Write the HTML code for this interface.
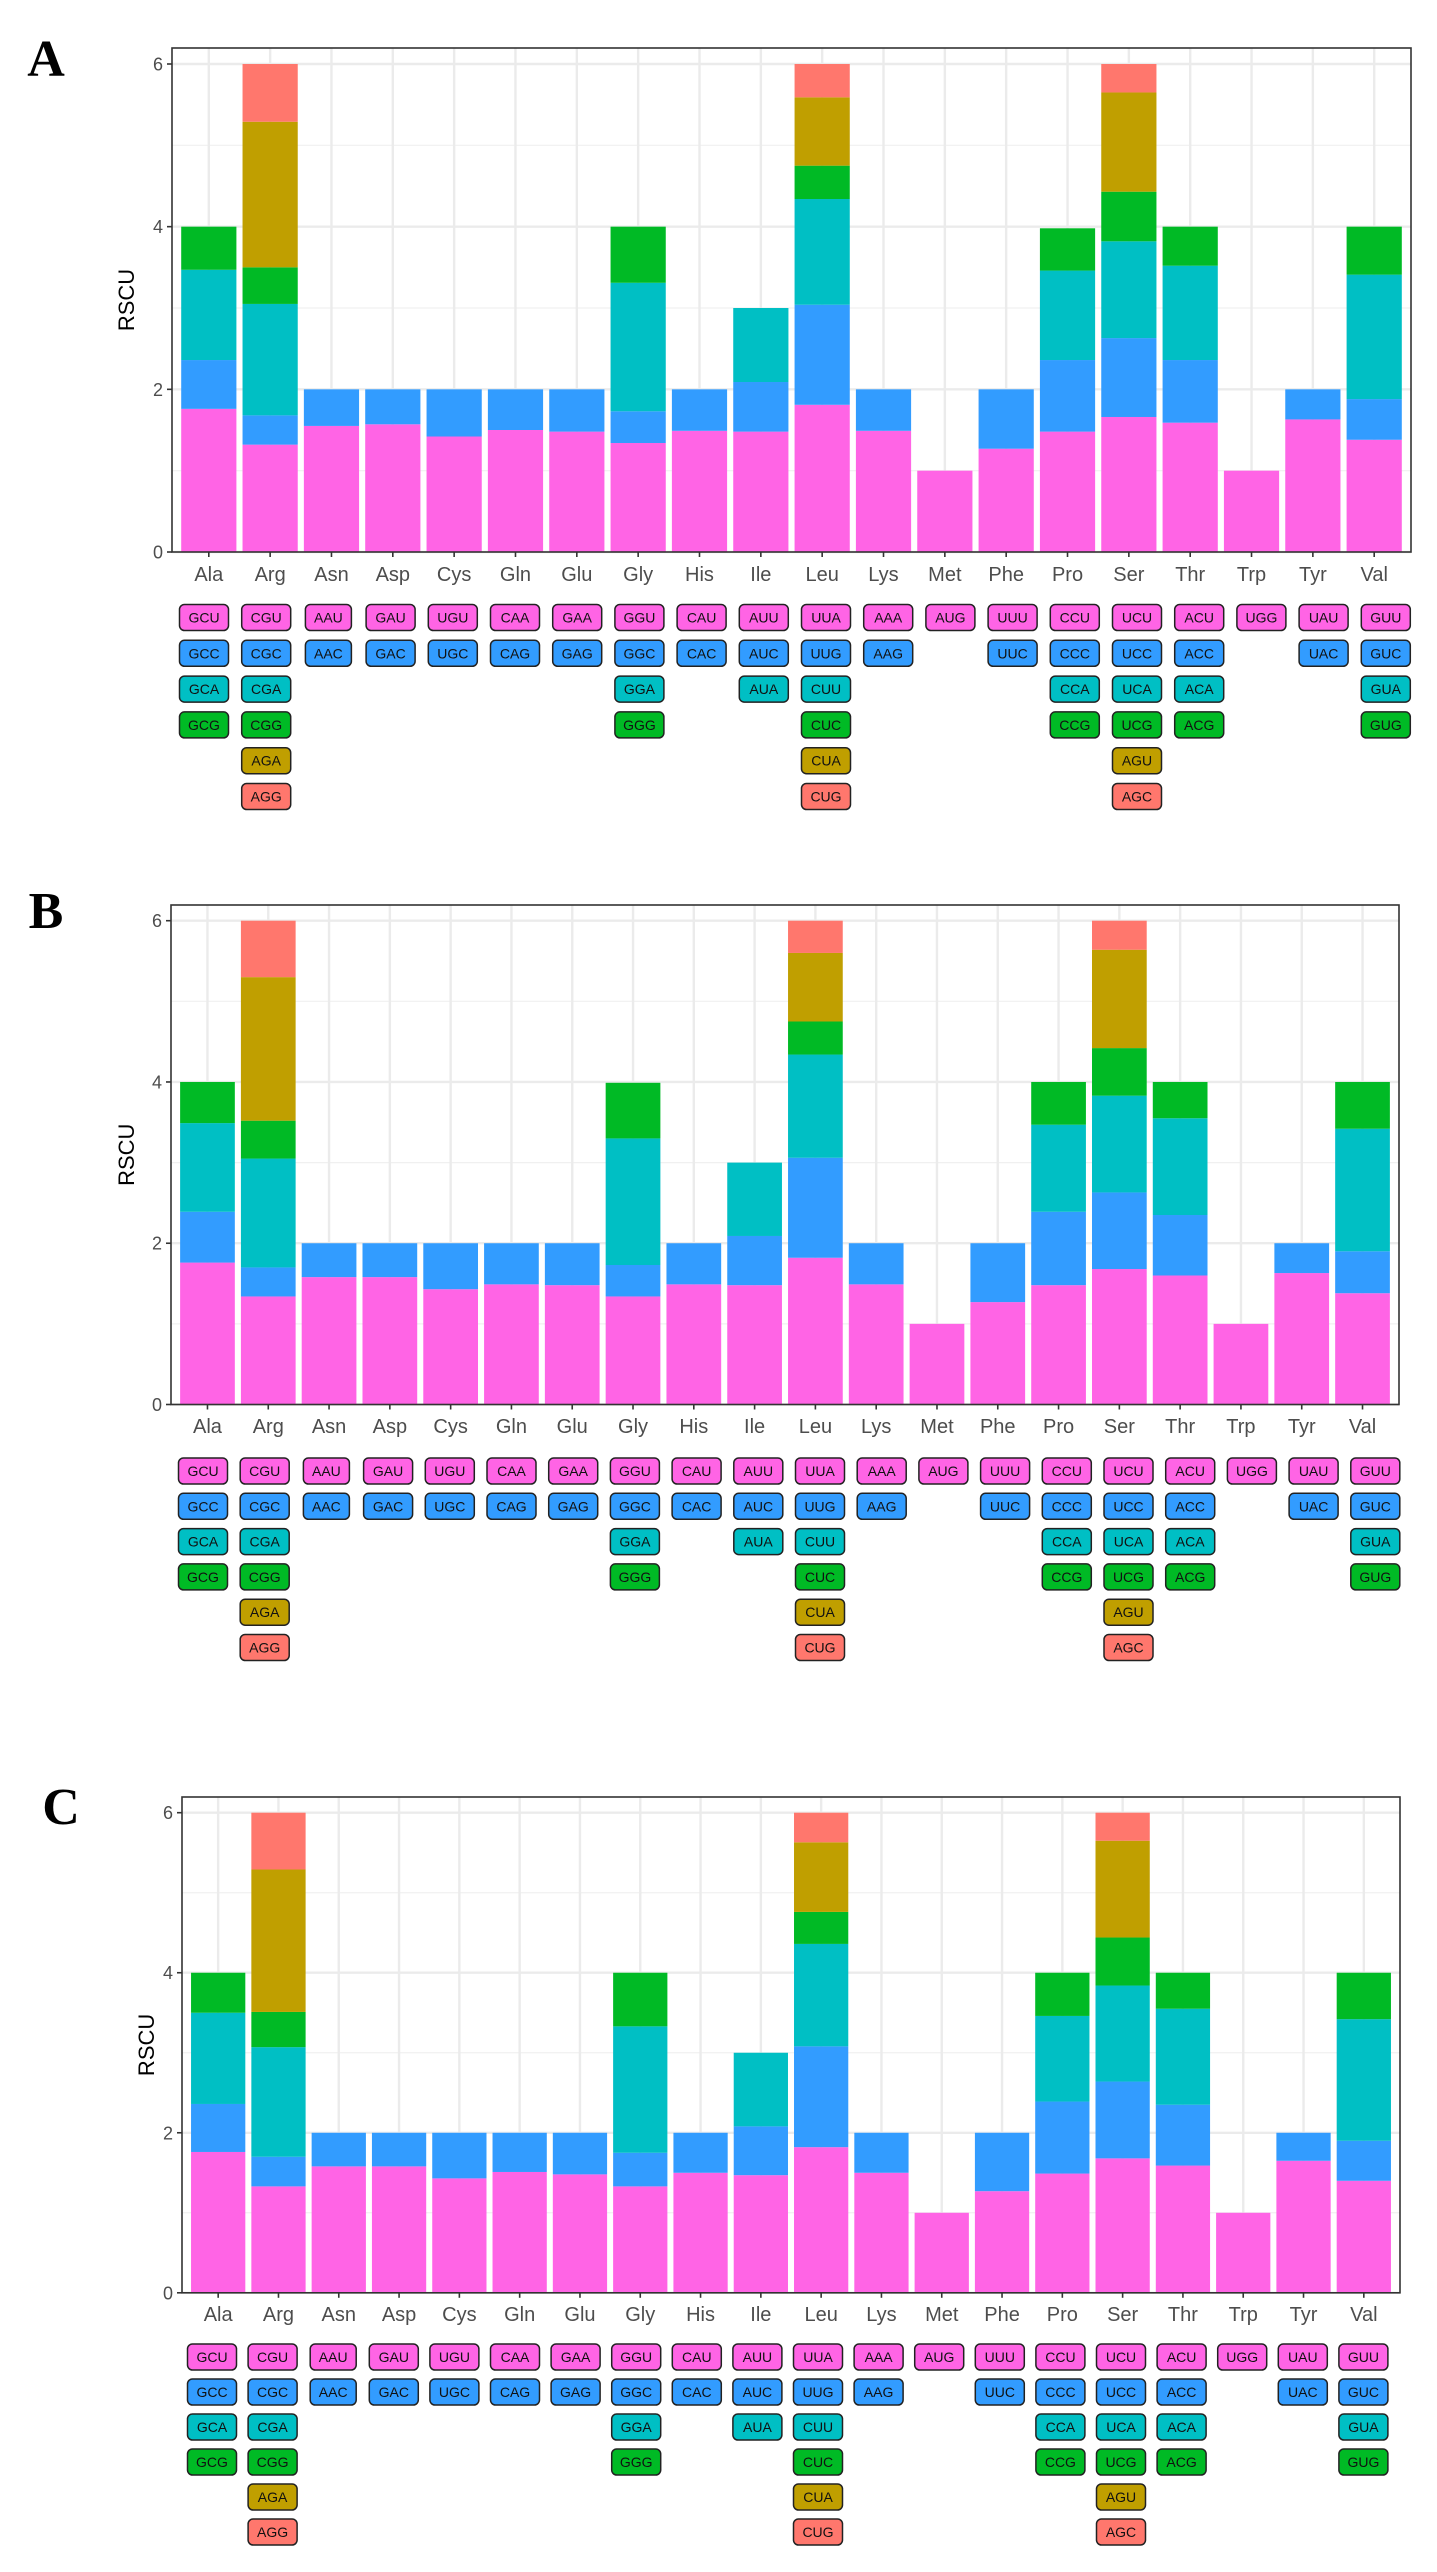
<!DOCTYPE html>
<html><head><meta charset="utf-8">
<style>
html,body{margin:0;padding:0;background:#fff;}
svg{display:block;}
</style></head>
<body>
<svg id="fig" width="1437" height="2572" viewBox="0 0 1437 2572" xmlns="http://www.w3.org/2000/svg"></svg>
<script>
// ---- data ----
const aminoAcids = ["Ala","Arg","Asn","Asp","Cys","Gln","Glu","Gly","His","Ile","Leu","Lys","Met","Phe","Pro","Ser","Thr","Trp","Tyr","Val"];
const codons = [
 ["GCU","GCC","GCA","GCG"],
 ["CGU","CGC","CGA","CGG","AGA","AGG"],
 ["AAU","AAC"],["GAU","GAC"],["UGU","UGC"],["CAA","CAG"],["GAA","GAG"],
 ["GGU","GGC","GGA","GGG"],["CAU","CAC"],["AUU","AUC","AUA"],
 ["UUA","UUG","CUU","CUC","CUA","CUG"],["AAA","AAG"],["AUG"],["UUU","UUC"],
 ["CCU","CCC","CCA","CCG"],["UCU","UCC","UCA","UCG","AGU","AGC"],
 ["ACU","ACC","ACA","ACG"],["UGG"],["UAU","UAC"],["GUU","GUC","GUA","GUG"]
];
// cumulative stack tops (RSCU) per amino acid, bottom to top
const stackA = [
 [1.76,2.36,3.47,4],[1.32,1.68,3.05,3.50,5.29,6],[1.55,2],[1.57,2],[1.42,2],[1.50,2],[1.48,2],
 [1.34,1.73,3.31,4],[1.49,2],[1.48,2.09,3],[1.81,3.04,4.34,4.75,5.59,6],[1.49,2],[1],[1.27,2],
 [1.48,2.36,3.46,3.98],[1.66,2.63,3.82,4.43,5.65,6],[1.59,2.36,3.52,4],[1],[1.63,2],[1.38,1.88,3.41,4]
];
const stackB = [
 [1.76,2.39,3.49,4],[1.34,1.70,3.05,3.52,5.30,6],[1.58,2],[1.58,2],[1.43,2],[1.49,2],[1.48,2],
 [1.34,1.73,3.30,3.99],[1.49,2],[1.48,2.09,3],[1.82,3.06,4.34,4.75,5.60,6],[1.49,2],[1],[1.27,2],
 [1.48,2.39,3.47,4],[1.68,2.63,3.83,4.42,5.64,6],[1.60,2.35,3.55,4],[1],[1.63,2],[1.38,1.90,3.42,4]
];
const stackC = [
 [1.76,2.36,3.50,4],[1.33,1.70,3.07,3.51,5.29,6],[1.58,2],[1.58,2],[1.43,2],[1.51,2],[1.48,2],
 [1.33,1.75,3.33,4],[1.50,2],[1.47,2.08,3],[1.82,3.08,4.36,4.76,5.63,6],[1.50,2],[1],[1.27,2],
 [1.49,2.39,3.46,4],[1.68,2.64,3.84,4.44,5.65,6],[1.59,2.35,3.55,4],[1],[1.65,2],[1.40,1.90,3.42,4]
];
const yTicks = [0,2,4,6];
const yMinor = [1,3,5];
const panelLetters = ["A","B","C"];

// ---- style / layout ----
const colors = ["#FF64E5","#329CFF","#00BFC4","#00BA25","#C09F00","#FF776D"];
const panels = [
 {data:stackA,left:172,right:1411,top:48,y0:552,y6:64,labY:581,boxX0:204,boxStep:62.2,rowY0:617.5,rowStep:35.8,letterX:46,letterY:76,rscuX:126},
 {data:stackB,left:171,right:1399,top:905,y0:1404.5,y6:920.7,labY:1433,boxX0:203,boxStep:61.7,rowY0:1471,rowStep:35.3,letterX:46,letterY:928,rscuX:126},
 {data:stackC,left:182,right:1400,top:1797,y0:2292.8,y6:1812.7,labY:2321,boxX0:212,boxStep:60.6,rowY0:2357,rowStep:35,letterX:61,letterY:1824,rscuX:146}
];
const NS="http://www.w3.org/2000/svg";
const svg=document.getElementById('fig');
function mk(tag,attrs,parent){const e=document.createElementNS(NS,tag);for(const k in attrs)e.setAttribute(k,attrs[k]);(parent||svg).appendChild(e);return e;}

panels.forEach((p,pi)=>{
 const g=mk('g',{});
 
 
 const n=aminoAcids.length;
 const step=(p.right-p.left)/(n-1+1.2);
 const xs=i=>p.left+step*(0.6+i);
 const ys=v=>p.y0-(p.y0-p.y6)*v/6;
 // background + grid
 mk('rect',{x:p.left,y:p.top,width:p.right-p.left,height:p.y0-p.top,fill:'#fff'},g);
 yMinor.forEach(v=>{const l=mk('line',{x1:p.left,x2:p.right,y1:ys(v),y2:ys(v),stroke:'#f0f0f0','stroke-width':1.2},g);
  });
 yTicks.forEach(v=>{const l=mk('line',{x1:p.left,x2:p.right,y1:ys(v),y2:ys(v),stroke:'#ebebeb','stroke-width':2.4},g);
  });
 aminoAcids.forEach((a,i)=>{const l=mk('line',{x1:xs(i),x2:xs(i),y1:p.top,y2:p.y0,stroke:'#ebebeb','stroke-width':2.4},g);
  });
 // bars
 const bw=step*0.9;
 p.data.forEach((stack,i)=>{
  let prev=0;
  stack.forEach((top,k)=>{
   const r=mk('rect',{x:xs(i)-bw/2,y:ys(top),width:bw,height:ys(prev)-ys(top),fill:colors[k]},g);
   
   
   prev=top;
  });
 });
 // border
 const b=mk('rect',{x:p.left,y:p.top,width:p.right-p.left,height:p.y0-p.top,fill:'none',stroke:'#333','stroke-width':1.6},g);
 
 // y ticks
 yTicks.forEach(v=>{
  mk('line',{x1:p.left-5,x2:p.left,y1:ys(v),y2:ys(v),stroke:'#333','stroke-width':1.6},g);
  const t=mk('text',{x:p.left-9,y:ys(v)+6.5,'text-anchor':'end','font-family':'Liberation Sans, sans-serif','font-size':18,fill:'#4d4d4d'},g);
  t.textContent=v;
  
 });
 const yt=mk('text',{x:0,y:0,transform:`translate(${p.rscuX+8},${(p.top+p.y0)/2}) rotate(-90)`,'text-anchor':'middle','font-family':'Liberation Sans, sans-serif','font-size':22,fill:'#000'},g);
 yt.textContent='RSCU';
 
 // x ticks
 aminoAcids.forEach((a,i)=>{
  mk('line',{x1:xs(i),x2:xs(i),y1:p.y0,y2:p.y0+5,stroke:'#333','stroke-width':1.6},g);
  const t=mk('text',{x:xs(i),y:p.labY,'text-anchor':'middle','font-family':'Liberation Sans, sans-serif','font-size':20,fill:'#4d4d4d'},g);
  t.textContent=a;
  
 });
 // codon boxes
 codons.forEach((list,i)=>{
  const cx=p.boxX0+p.boxStep*i;
  list.forEach((c,k)=>{
   const cy=p.rowY0+p.rowStep*k;
   const w=(c.indexOf('A')===0&&c!=='AUG'&&i===2)?46:49;
   const r=mk('rect',{x:cx-w/2,y:cy-13,width:w,height:26,rx:5,ry:5,fill:colors[k],stroke:'#222','stroke-width':1.5},g);
   
   const t=mk('text',{x:cx,y:cy+5,'text-anchor':'middle','font-family':'Liberation Sans, sans-serif','font-size':14,fill:'#111'},g);
   t.textContent=c;
   
  });
 });
 // panel letter
 const L=mk('text',{x:p.letterX,y:p.letterY,'text-anchor':'middle','font-family':'Liberation Serif, serif','font-size':52,'font-weight':'bold',fill:'#000'},g);
 L.textContent=panelLetters[pi];
 
});
</script>
</body></html>
